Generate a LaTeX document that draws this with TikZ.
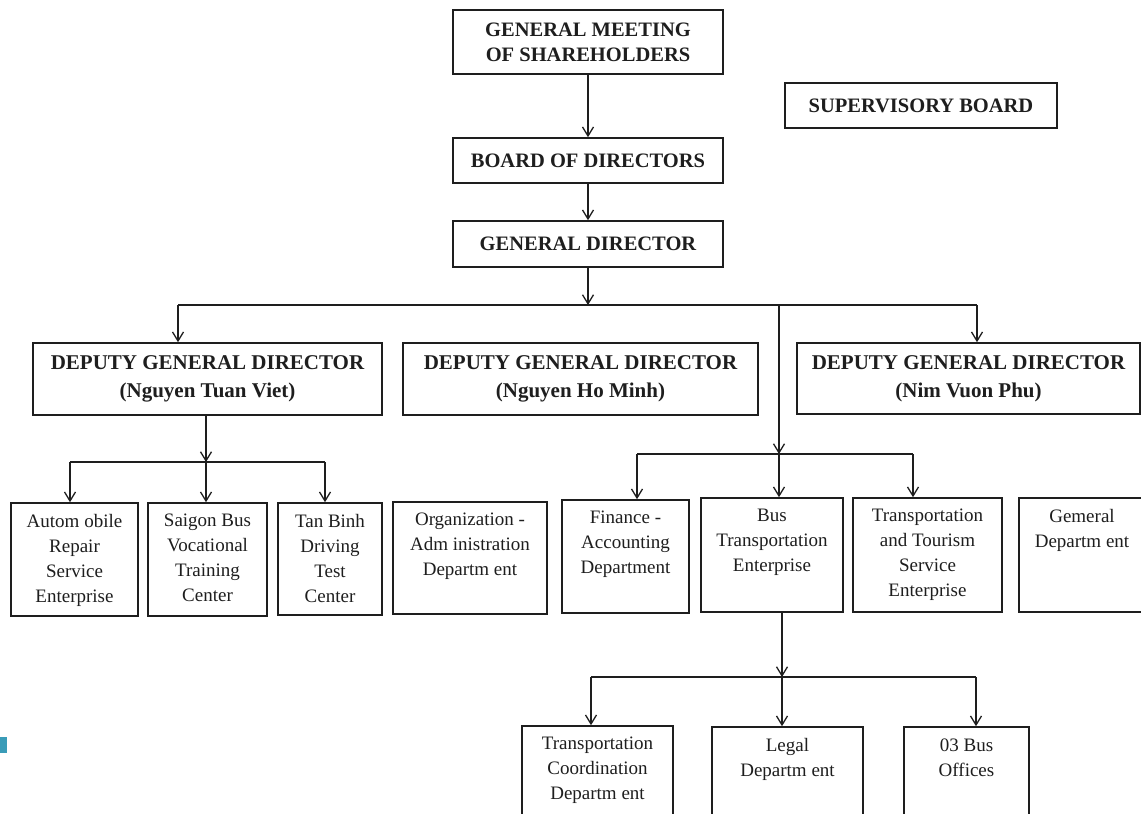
\documentclass[tikz,border=0pt]{standalone}
\usepackage{fontspec}
\setmainfont{Liberation Serif}
\usetikzlibrary{arrows.meta}
\definecolor{ink}{HTML}{1E1E1E}
\definecolor{tealmark}{HTML}{3A9CB8}
\begin{document}
\begin{tikzpicture}[x=1pt,y=-1pt,
  every node/.style={text=ink},
  boxbase/.style={draw=ink, line width=1.6pt, inner sep=0pt},
  capbox/.style={boxbase, font=\bfseries\fontsize{20.5}{25}\selectfont, align=center},
  depbox/.style={boxbase, font=\bfseries\fontsize{21}{28}\selectfont, align=center},
  unitbox/.style={boxbase},
  unittext/.style={font=\fontsize{19}{25}\selectfont, align=center, anchor=north, inner sep=0pt, yshift=-12pt},
  conn/.style={draw=ink, line width=1.3pt},
  arr/.style={conn, -{Straight Barb[length=9pt,width=11pt]}},
]
\useasboundingbox (0,0) rectangle (1141,814);
\clip (0,0) rectangle (1141,814);
\fill[white] (0,0) rectangle (1141,814);
\fill[tealmark] (0,737) rectangle (7,753);

% top levels
\node[capbox, minimum width=270, minimum height=64] (gms) at (588,42) {GENERAL MEETING\\OF SHAREHOLDERS};
\node[capbox, minimum width=272, minimum height=45] (sb) at (921,105.5) {SUPERVISORY BOARD};
\node[capbox, minimum width=270, minimum height=45] (bod) at (588,160.5) {BOARD OF DIRECTORS};
\node[capbox, minimum width=270, minimum height=46] (gd) at (588,244) {GENERAL DIRECTOR};

% deputies
\node[depbox, minimum width=349, minimum height=72] (dgd1) at (207.5,379) {DEPUTY GENERAL DIRECTOR\\(Nguyen Tuan Viet)};
\node[depbox, minimum width=355, minimum height=72] (dgd2) at (580.5,379) {DEPUTY GENERAL DIRECTOR\\(Nguyen Ho Minh)};
\node[depbox, minimum width=343, minimum height=71] (dgd3) at (968.5,378.5) {DEPUTY GENERAL DIRECTOR\\(Nim Vuon Phu)};

% units
\node[unitbox, minimum width=127, minimum height=113, label={[unittext]north:{Autom obile\\Repair\\Service\\Enterprise}}] (auto) at (74.5,559.5) {};
\node[unitbox, minimum width=119, minimum height=113, label={[unittext]north:{Saigon Bus\\Vocational\\Training\\Center}}] (saigon) at (207.5,559.5) {};
\node[unitbox, minimum width=104, minimum height=112, label={[unittext]north:{Tan Binh\\Driving\\Test\\Center}}] (tanbinh) at (330,559) {};
\node[unitbox, minimum width=154, minimum height=112, label={[unittext]north:{Organization -\\Adm inistration\\Departm ent}}] (org) at (470,558) {};
\node[unitbox, minimum width=127, minimum height=113, label={[unittext]north:{Finance -\\Accounting\\Department}}] (fin) at (625.5,556.5) {};
\node[unitbox, minimum width=142, minimum height=114, label={[unittext]north:{Bus\\Transportation\\Enterprise}}] (bus) at (772,555) {};
\node[unitbox, minimum width=149, minimum height=114, label={[unittext]north:{Transportation\\and Tourism\\Service\\Enterprise}}] (tts) at (927.5,555) {};
\node[unitbox, minimum width=126, minimum height=114, label={[unittext]north:{Gemeral\\Departm ent}}] (gen) at (1082,555) {};

% bus enterprise units
\node[unitbox, minimum width=151, minimum height=104, label={[unittext]north:{Transportation\\Coordination\\Departm ent}}] (tc) at (597.5,778) {};
\node[unitbox, minimum width=151, minimum height=103, label={[unittext]north:{Legal\\Departm ent}}] (legal) at (787.5,778.5) {};
\node[unitbox, minimum width=125, minimum height=103, label={[unittext]north:{03 Bus\\Offices}}] (bof) at (966.5,778.5) {};

% connectors: top
\draw[arr] (gms.south) -- (bod.north);
\draw[arr] (bod.south) -- (gd.north);
\coordinate (hL) at (178,305);
\coordinate (hV) at (779,305);
\coordinate (hR) at (977,305);
\draw[arr] (gd.south) -- (gd.south |- hL);
\draw[conn] (hL) -- (hR);
\draw[arr] (hL) -- (hL |- dgd1.north);
\draw[arr] (hR) -- (hR |- dgd3.north);

% to finance row
\coordinate (fL) at (637,454);
\coordinate (fV) at (779,454);
\coordinate (fR) at (913,454);
\draw[arr] (hV) -- (fV);
\draw[conn] (fL) -- (fR);
\draw[arr] (fL) -- (fL |- fin.north);
\draw[arr] (fV) -- (fV |- bus.north);
\draw[arr] (fR) -- (fR |- tts.north);

% deputy 1 units
\coordinate (dL) at (70,462);
\coordinate (dV) at (206,462);
\coordinate (dR) at (325,462);
\draw[arr] (dgd1.south -| dV) -- (dV);
\draw[conn] (dL) -- (dR);
\draw[arr] (dL) -- (dL |- auto.north);
\draw[arr] (dV) -- (dV |- saigon.north);
\draw[arr] (dR) -- (dR |- tanbinh.north);

% bus enterprise units
\coordinate (bL) at (591,677);
\coordinate (bV) at (782,677);
\coordinate (bR) at (976,677);
\draw[arr] (bus.south -| bV) -- (bV);
\draw[conn] (bL) -- (bR);
\draw[arr] (bL) -- (bL |- tc.north);
\draw[arr] (bV) -- (bV |- legal.north);
\draw[arr] (bR) -- (bR |- bof.north);
\end{tikzpicture}
\end{document}
